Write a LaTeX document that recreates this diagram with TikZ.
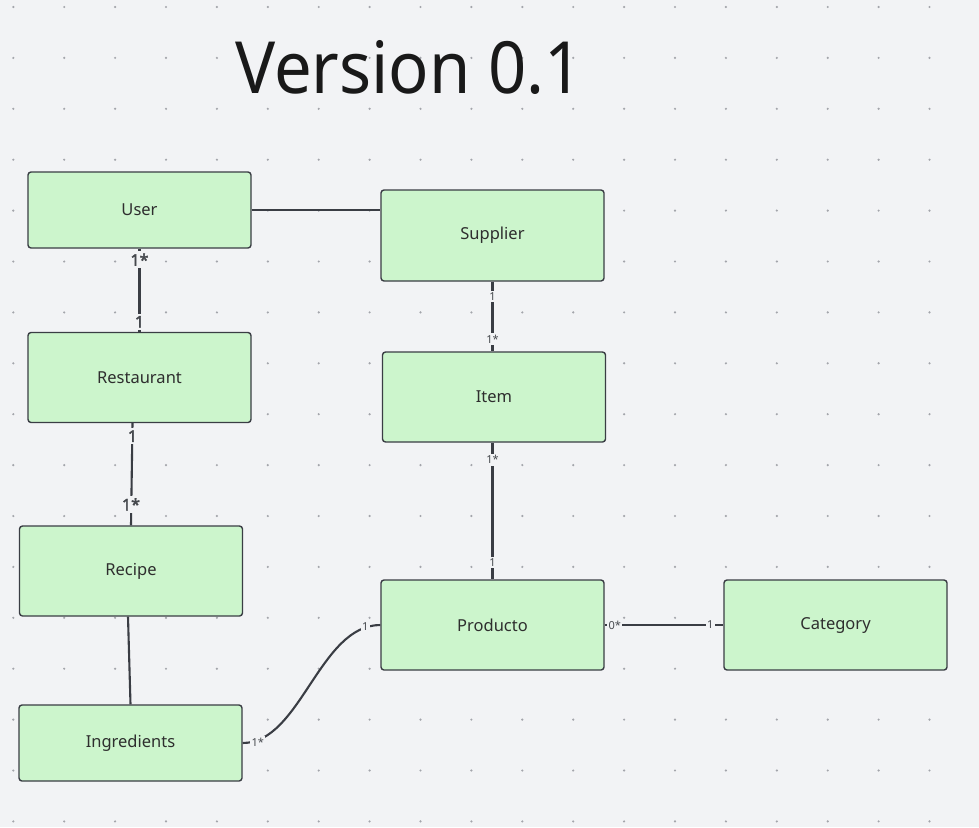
\documentclass[tikz,border=0pt]{standalone}
\usepackage{fontspec}
\usepackage{graphicx}
\setmainfont{Noto Sans}
\newfontfamily\labbold{Noto Sans}[FakeBold=2.5]
\definecolor{bg}{HTML}{F2F3F5}
\definecolor{dotc}{HTML}{A3A5AB}
\definecolor{boxfill}{HTML}{CCF5CC}
\definecolor{boxline}{HTML}{3A3D44}
\definecolor{txt}{HTML}{2E2E2E}
\definecolor{lin}{HTML}{3A3D44}
\definecolor{labc}{HTML}{45484D}
\begin{document}
\begin{tikzpicture}[x=1pt,y=-1pt,
  ent/.style={draw=boxline, fill=boxfill, rounded corners=3pt, line width=1.4pt,
    minimum width=223pt, minimum height=90pt, inner sep=0pt,
    font=\fontsize{16.5}{19}\selectfont, text=txt},
  conn/.style={draw=lin, line width=2.1pt},
  lab/.style={fill=bg, inner xsep=0.6pt, inner ysep=1.8pt, font=\fontsize{11}{12}\selectfont, text=labc},
  blab/.style={fill=bg, inner xsep=0.6pt, inner ysep=2.2pt, font=\labbold\fontsize{16}{17}\selectfont, text=labc}]
\fill[bg] (0,0) rectangle (979,827);
\useasboundingbox (0,0) rectangle (979,827);
\foreach \i in {0,...,19}
  \foreach \j in {0,...,16}
    \fill[dotc] (13.3+50.9*\i, 7+50.9*\j) circle (1.2pt);
\node[anchor=base, font=\fontsize{72}{80}\selectfont, text=black!90] (title) at (409,93) {\scalebox{0.93}[1]{Version 0.1}};
\node[ent, minimum height=76pt] (user) at (139.5,210) {User};
\node[ent, minimum height=91pt] (supplier) at (492.5,235.5) {Supplier};
\node[ent] (rest) at (139.5,377.5) {Restaurant};
\node[ent] (item) at (494,397) {Item};
\node[ent] (recipe) at (131,571) {Recipe};
\node[ent] (prod) at (492.5,625) {Producto};
\node[ent] (cat) at (835.5,625) {Category};
\node[ent, minimum height=76pt] (ingr) at (130.5,743) {Ingredients};
% User - Supplier
\draw[conn] (user.east) -- (supplier.west |- user.east);
% User - Restaurant
\draw[conn] (user.south) -- (rest.north);
\path (user.south) ++(0,11) node[blab] {1*};
\path (rest.north) ++(0,-10) node[blab] {1};
% Restaurant - Recipe
\draw[conn] (rest.south -| recipe.north) ++(1.5,0) -- (recipe.north);
\path (rest.south -| recipe.north) ++(1.5,13) node[blab] {1};
\path (recipe.north) ++(0,-21) node[blab] {1*};
% Supplier - Item
\draw[conn] (supplier.south) -- (supplier.south |- item.north);
\path (supplier.south) ++(0,15) node[lab] {1};
\path (supplier.south |- item.north) ++(0,-12) node[lab] {1*};
% Item - Producto
\draw[conn] (item.south -| prod.north) -- (prod.north);
\path (item.south -| prod.north) ++(0,17) node[lab] {1*};
\path (prod.north) ++(0,-17) node[lab] {1};
% Recipe - Ingredients
\path (recipe.south) ++(-3,0) coordinate (rb);
\draw[conn] (rb) -- (ingr.north);
% Ingredients - Producto
\draw[conn] (ingr.east) .. controls +(58,0) and +(-61,0) .. (prod.west);
\path (ingr.east) ++(15,-1) node[lab, inner xsep=1.5pt] {1*};
\path (prod.west) ++(-15,2) node[lab, inner xsep=1.5pt] {1};
% Producto - Category
\draw[conn] (prod.east) -- (cat.west);
\path (prod.east) ++(10,0) node[lab, inner xsep=1.5pt] {0*};
\path (cat.west) ++(-13,0) node[lab, inner xsep=1.5pt] {1};
\end{tikzpicture}
\end{document}
